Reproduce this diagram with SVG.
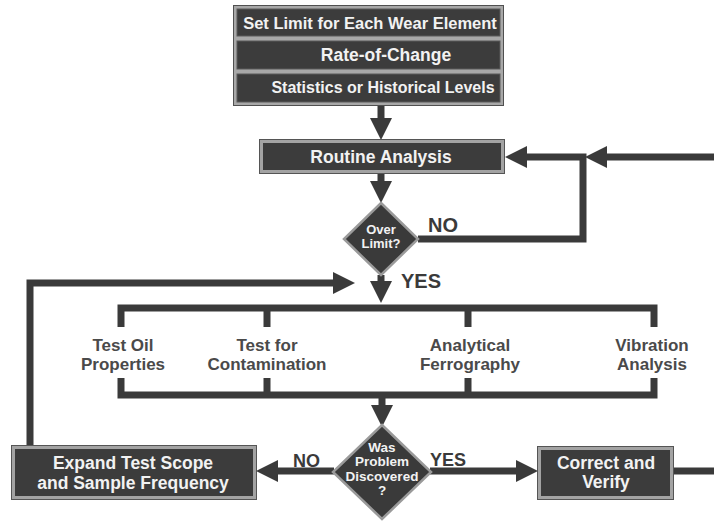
<svg xmlns="http://www.w3.org/2000/svg" width="714" height="521" viewBox="0 0 714 521">
  <defs>
    <style>
      .box { fill: #3c3c3c; stroke: #a3a3a3; stroke-width: 3; }
      .edge { fill: none; stroke: #555; stroke-width: 1; }
      .dia { fill: #3a3a3a; stroke: #9a9a9a; stroke-width: 2.5; }
      .wt { font-family: "Liberation Sans", Arial, sans-serif; font-weight: bold; fill: #f2f2f2; text-anchor: middle; }
      .lbl { font-family: "Liberation Sans", Arial, sans-serif; font-weight: bold; fill: #4a4a4a; text-anchor: middle; font-size: 17px; }
      .yn { font-family: "Liberation Sans", Arial, sans-serif; font-weight: bold; fill: #3a3a3a; }
      .ln { fill: none; stroke: #3a3a3a; stroke-width: 7; stroke-linejoin: miter; }
    </style>
    <marker id="arrow" viewBox="0 -11 22 22" refX="0" refY="0" markerWidth="22" markerHeight="22" markerUnits="userSpaceOnUse" orient="auto">
      <path d="M0,-11 L22,0 L0,11 z" fill="#3a3a3a"/>
    </marker>
  </defs>
  <rect width="714" height="521" fill="#ffffff"/>

  <!-- connectors -->
  <g id="connectors">
    <line class="ln" x1="381" y1="105" x2="381" y2="118" marker-end="url(#arrow)"/>
    <line class="ln" x1="381" y1="173" x2="381" y2="181" marker-end="url(#arrow)"/>
    <path class="ln" d="M418,239 H583 V157 H527" marker-end="url(#arrow)"/>
    <path class="ln" d="M714,157 H607" marker-end="url(#arrow)"/>
    <line class="ln" x1="381" y1="275" x2="381" y2="281" marker-end="url(#arrow)"/>
    <path class="ln" d="M30,446 V283 H333" marker-end="url(#arrow)"/>
    <path class="ln" d="M121,327 V308 H654 V327 M267,308 V327 M468,308 V327"/>
    <path class="ln" d="M121,378 V395 H654 V378 M267,395 V378 M468,395 V378"/>
    <line class="ln" x1="382" y1="395" x2="382" y2="405" marker-end="url(#arrow)"/>
    <path class="ln" d="M430,471 H516" marker-end="url(#arrow)"/>
    <path class="ln" d="M334,471 H278" marker-end="url(#arrow)"/>
    <path class="ln" d="M673,471 H714"/>
    <text class="yn" x="428" y="232" font-size="20">NO</text>
    <text class="yn" x="401" y="288" font-size="20">YES</text>
    <text class="yn" x="430" y="466" font-size="18">YES</text>
    <text class="yn" x="293" y="467" font-size="18">NO</text>
  </g>

  <!-- limit settings stack -->
  <g id="limits">
    <rect x="233.5" y="5.5" width="270" height="100" fill="#a8a8a8" stroke="#505050" stroke-width="1"/>
    <rect x="237" y="9" width="263" height="27" fill="#3c3c3c" stroke="#5a5a5a" stroke-width="1"/>
    <rect x="237" y="41" width="263" height="28" fill="#3c3c3c" stroke="#5a5a5a" stroke-width="1"/>
    <rect x="237" y="74" width="263" height="28" fill="#3c3c3c" stroke="#5a5a5a" stroke-width="1"/>
    <text class="wt" x="370" y="29" font-size="16.5">Set Limit for Each Wear Element</text>
    <text class="wt" x="386" y="61" font-size="17.5">Rate-of-Change</text>
    <text class="wt" x="383" y="93" font-size="16">Statistics or Historical Levels</text>
  </g>

  <g id="routine">
    <rect class="edge" x="259.5" y="139.5" width="245" height="34"/>
    <rect class="box" x="261.5" y="141.5" width="241" height="30"/>
    <text class="wt" x="381" y="163" font-size="17.5">Routine Analysis</text>
  </g>

  <g id="over-limit">
    <polygon class="dia" points="381,203 418,239 381,275 344,239"/>
    <text class="wt" x="381" y="234" font-size="13">Over</text>
    <text class="wt" x="381" y="248" font-size="13">Limit?</text>
  </g>

  <g id="tests">
    <text class="lbl" x="123" y="351">Test Oil</text>
    <text class="lbl" x="123" y="370">Properties</text>
    <text class="lbl" x="267" y="351">Test for</text>
    <text class="lbl" x="267" y="370">Contamination</text>
    <text class="lbl" x="470" y="351">Analytical</text>
    <text class="lbl" x="470" y="370">Ferrography</text>
    <text class="lbl" x="652" y="351">Vibration</text>
    <text class="lbl" x="652" y="370">Analysis</text>
  </g>

  <g id="problem">
    <polygon class="dia" points="382,425 431,472 382,519 333,472"/>
    <text class="wt" x="382" y="452" font-size="13.5">Was</text>
    <text class="wt" x="382" y="466" font-size="13.5">Problem</text>
    <text class="wt" x="382" y="481" font-size="13.5">Discovered</text>
    <text class="wt" x="382" y="495" font-size="13.5">?</text>
  </g>

  <g id="expand">
    <rect class="edge" x="11.5" y="445.5" width="245" height="54"/>
    <rect class="box" x="13.5" y="447.5" width="241" height="50"/>
    <text class="wt" x="133" y="469" font-size="17.5">Expand Test Scope</text>
    <text class="wt" x="133" y="489" font-size="17.5">and Sample Frequency</text>
  </g>

  <g id="correct">
    <rect class="edge" x="537.5" y="446.5" width="136" height="53"/>
    <rect class="box" x="539.5" y="448.5" width="132" height="49"/>
    <text class="wt" x="606" y="469" font-size="17.5">Correct and</text>
    <text class="wt" x="606" y="488" font-size="17.5">Verify</text>
  </g>
</svg>
